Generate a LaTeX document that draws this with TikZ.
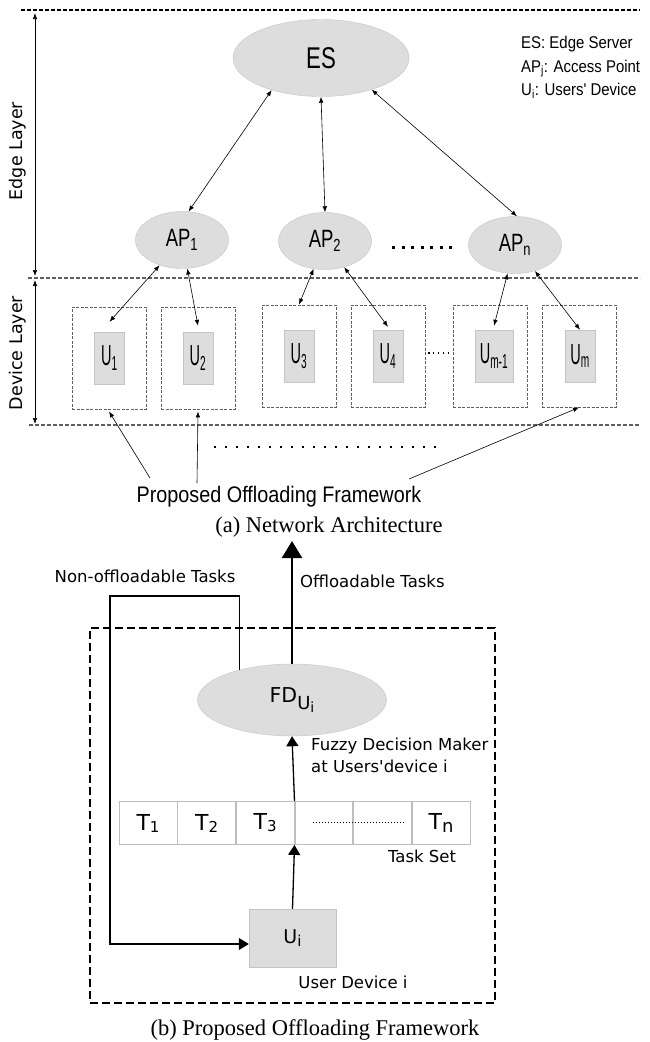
\documentclass[tikz,border=0pt]{standalone}
\usepackage{fontspec}
\setmainfont{Liberation Serif}
\newfontfamily\archfont[FakeStretch=0.88]{Liberation Sans}
\newfontfamily\labelfont[FakeStretch=0.74]{Liberation Sans}
\newfontfamily\narrowfont[FakeStretch=0.5]{Liberation Sans}
\newfontfamily\fwfont{DejaVu Sans}
\newcommand{\lowidx}[3]{\raisebox{-#1}{\fontsize{#2}{#2}\selectfont #3}}
\usetikzlibrary{%
	calc,%
	arrows.meta,%
	positioning,%
	shapes.geometric,%
}
\definecolor{cgrayfill}{RGB}{221, 221, 221}
\definecolor{cgrayline}{RGB}{196, 196, 196}
\definecolor{cgraydash}{RGB}{95, 95, 95}
\definecolor{cgraycell}{RGB}{190, 190, 190}
\tikzset{
	>=Triangle,%
	nodes={align=center},%
	bubble/.style={%
			ellipse,%
			draw=cgrayline,%
			fill=cgrayfill,%
			inner sep=0pt,%
			font=\labelfont\fontsize{25}{28}\selectfont},%
	userbox/.style={%
			rectangle,%
			draw=cgrayline,%
			fill=cgrayfill,%
			inner sep=0pt,%
			minimum width=30pt,%
			minimum height=52pt,%
			font=\narrowfont\fontsize{29}{32}\selectfont},%
	devframe/.style={%
			rectangle,%
			draw=cgraydash,%
			dash pattern=on 3pt off 1.5pt,%
			line width=0.9pt,%
			inner sep=0pt,%
			minimum width=74pt,%
			minimum height=102pt},%
	layerline/.style={%
			line width=1.2pt,%
			dash pattern=on 4pt off 2pt},%
	link/.style={<->, >={Latex[length=6pt,width=4.5pt]}, line width=0.6pt},%
	pointer/.style={->, >={Latex[length=6pt,width=4.5pt]}, line width=0.6pt},%
	taskcell/.style={%
			rectangle,%
			draw=cgraycell,%
			line width=0.8pt,%
			inner sep=0pt,%
			minimum width=57.8pt,%
			minimum height=43pt,%
			font=\fwfont\fontsize{22}{24}\selectfont},%
	flow/.style={->, >={Triangle[length=10pt,width=12pt]}, line width=1.3pt},%
	fwlabel/.style={inner sep=0pt, font=\fwfont\fontsize{16.5}{22}\selectfont},%
	caption/.style={inner sep=0pt, font=\fontsize{22.5}{27}\selectfont},%
}

\begin{document}
\begin{tikzpicture}[x={(1pt,0)}, y={(0,-1pt)}]%
	\useasboundingbox (0,0) rectangle (649,1042);

	\coordinate (topl) at (21,10);
	\coordinate (topr) at (640,10);
	\coordinate (sepl) at (28,278);
	\coordinate (sepr) at (640,278);
	\coordinate (botl) at (29,425);
	\coordinate (botr) at (640,425);
	\coordinate (edgetop) at (35,13);
	\coordinate (edgebot) at (35,276);
	\coordinate (devtop) at (35,280);
	\coordinate (devbot) at (35,424);

	\draw[layerline] (topl) -- (topr);
	\draw[layerline, cgraydash] (sepl) -- (sepr);
	\draw[layerline, cgraydash] (botl) -- (botr);
	\draw[link] (edgetop) -- (edgebot);
	\draw[link] (devtop) -- (devbot);
	\node[rotate=90, inner sep=0pt, font=\fwfont\fontsize{17.5}{20}\selectfont] (edgelbl) at (18,151) {Edge Layer};
	\node[rotate=90, inner sep=0pt, font=\fwfont\fontsize{17.5}{20}\selectfont] (devlbl) at (18,353) {Device Layer};

	\node[bubble, minimum width=176pt, minimum height=77pt, font=\labelfont\fontsize{30}{32}\selectfont] (es) at (321,58) {ES};
	\node[bubble, minimum width=93pt, minimum height=57pt] (ap1) at (182,240) {AP\textsubscript{1}};
	\node[bubble, minimum width=93pt, minimum height=57pt] (ap2) at (325,241) {AP\textsubscript{2}};
	\node[bubble, minimum width=93pt, minimum height=57pt] (apn) at (515,245) {AP\textsubscript{n}};
	\draw[line width=3pt, dash pattern=on 3pt off 6.5pt] (392,247) -- (455,247);

	\node[anchor=north west, align=left, inner sep=0pt, font=\archfont\fontsize{17}{23.5}\selectfont] (legend) at (521,36) {%
		ES: Edge Server\\
		AP\textsubscript{j}: Access Point\\
		U\textsubscript{i}: Users' Device};

	\draw[link] (es.213) -- (ap1.77);
	\draw[link] (es.south) -- (ap2.north);
	\draw[link] (es.328) -- (apn.86);

	\node[devframe] (dev1) at (109,358) {};
	\node[devframe] (dev2) at (198,358) {};
	\node[devframe] (dev3) at (299,356) {};
	\node[devframe] (dev4) at (388,356) {};
	\node[devframe] (dev5) at (490,356) {};
	\node[devframe] (dev6) at (579,356) {};
	\node[userbox] (u1) at (109.5,358) {U\textsubscript{1}};
	\node[userbox] (u2) at (198,358) {U\textsubscript{2}};
	\node[userbox] (u3) at (299,356) {U\textsubscript{3}};
	\node[userbox] (u4) at (388,356) {U\textsubscript{4}};
	\node[userbox, minimum width=38pt] (u5) at (494,356) {U\textsubscript{m-1}};
	\node[userbox] (u6) at (580,356) {U\textsubscript{m}};
	\draw[line width=1.5pt, dash pattern=on 1.5pt off 3.4pt] (428,353) -- (452,353);

	\draw[link] (ap1) -- ([yshift=10pt]u1.north);
	\draw[link] (ap1) -- ([yshift=6pt]u2.north);
	\draw[link] (ap2) -- (dev3.north -| u3.north);
	\draw[link] (ap2) -- ([yshift=3pt]u4.north);
	\draw[link] (apn) -- ([yshift=4pt]u5.north);
	\draw[link] (apn) -- (u6.north);

	\draw[line width=1.8pt, dash pattern=on 1.8pt off 9.2pt] (214,447) -- (436,447);

	\node[inner sep=0pt, font=\archfont\fontsize{22.5}{24}\selectfont] (pof) at (279,497) {Proposed Offloading Framework};
	\draw[pointer] ([shift={(-129,-19)}]pof.center) -- ([yshift=-2pt]dev1.south);
	\draw[pointer] ([shift={(-82,-14)}]pof.center) -- ([yshift=-2pt]dev2.south);
	\draw[pointer] ([shift={(130,-18)}]pof.center) -- (dev6.south);

	\node[caption] (capa) at (329,527) {(a) Network Architecture};

	\node[draw, line width=1.6pt, dash pattern=on 8pt off 4pt, minimum width=405pt, minimum height=375pt, inner sep=0pt] (frame) at (292.5,815.5) {};

	\node[bubble, minimum width=189pt, minimum height=72pt, font=\fwfont\fontsize{20.5}{24}\selectfont] (fd) at (292,700) {FD\lowidx{0.35em}{18}{U\lowidx{0.2em}{14}{i}}};

	\node[taskcell] (t1) at (148,823) {T\lowidx{2pt}{15}{1}};
	\node[taskcell, right=0pt of t1] (t2) {T\lowidx{2pt}{15}{2}};
	\node[taskcell, right=0pt of t2] (t3) {T\lowidx{2pt}{15}{3}};
	\node[taskcell, right=0pt of t3] (t4) {};
	\node[taskcell, right=0pt of t4] (t5) {};
	\node[taskcell, right=0pt of t5] (t6) {T\lowidx{3pt}{18}{n}};
	\draw[line width=1pt, dash pattern=on 1pt off 2pt] ([xshift=18pt,yshift=1pt]t4.west) -- ([xshift=-8pt,yshift=1pt]t5.east);
	\node[fwlabel] (tset) at (422,856) {Task Set};

	\node[userbox, minimum width=87pt, minimum height=58pt, font=\fwfont\fontsize{19}{22}\selectfont] (ui) at (292.5,938) {U\lowidx{3pt}{15}{i}};
	\node[fwlabel] (udev) at (353,982) {User Device i};

	\coordinate (offtip) at (292,541);
	\coordinate (nofftop) at (110,596);
	\draw[->, >={Triangle[length=17pt,width=20pt]}, line width=2.2pt] (fd.north) -- (offtip);
	\node[fwlabel, anchor=west] (offl) at (300,581) {Offloadable Tasks};
	\node[fwlabel] (noffl) at (145,576) {Non-offloadable Tasks};
	\draw[flow, line width=1.1pt] (fd.150) |- (nofftop) |- ([yshift=-6pt]ui.west);

	\draw[flow] (t3.north east) -- (fd.south);
	\draw[flow] (ui.north) -- (t3.south east);
	\node[fwlabel, anchor=west, align=left] (fdm) at (311,755) {Fuzzy Decision Maker\\at Users'device i};

	\node[caption] (capb) at (315,1030) {(b) Proposed Offloading Framework};
\end{tikzpicture}
\end{document}
